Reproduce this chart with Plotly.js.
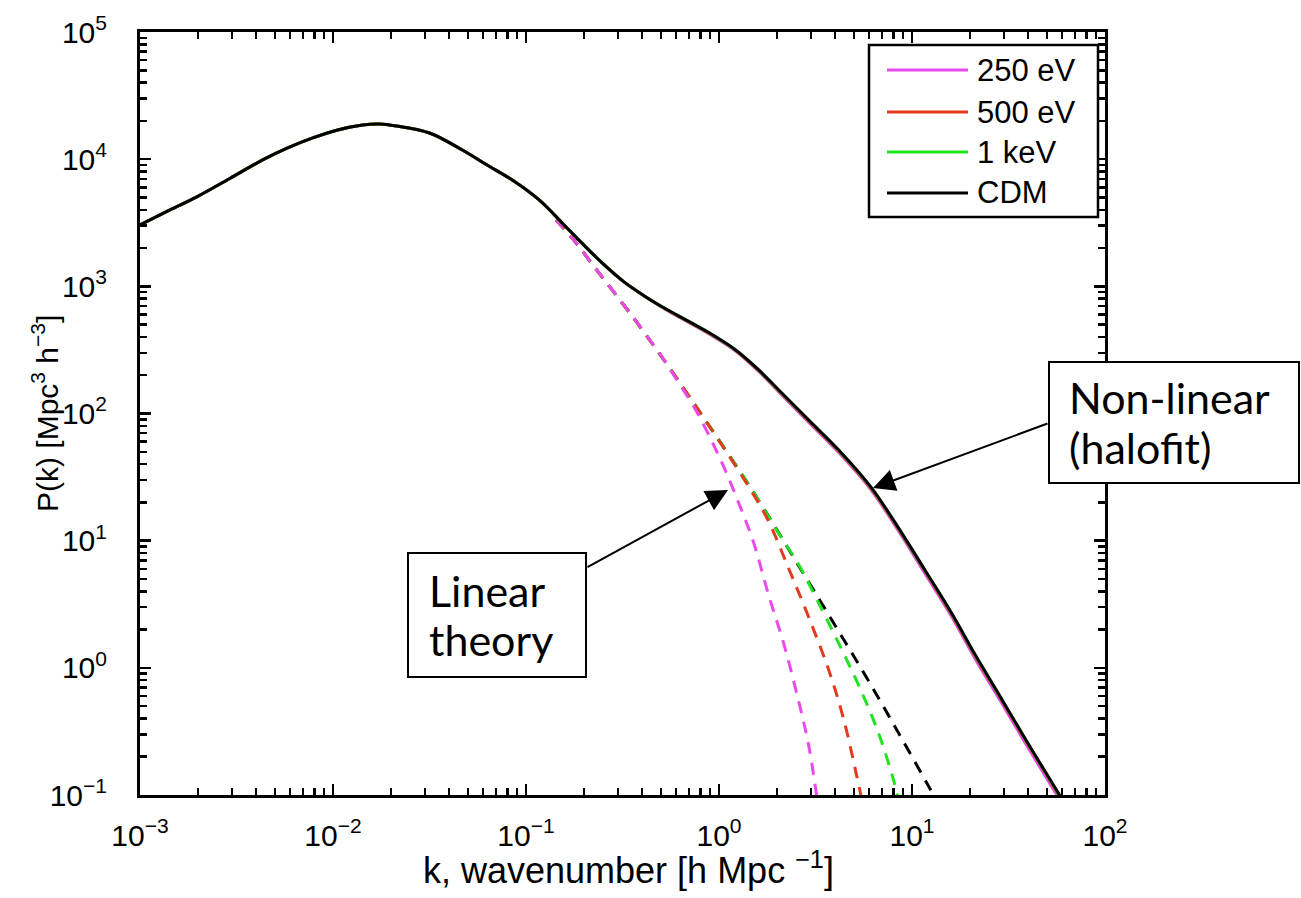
<!DOCTYPE html>
<html>
<head>
<meta charset="utf-8">
<script src="https://cdn.plot.ly/plotly-3.0.1.min.js"></script>
<style>
html,body{margin:0;padding:0;background:#fff;}
#chart{width:1301px;height:898px;}
</style>
</head>
<body>
<div id="chart"></div>
<script>
// ---- data ----
// non-linear (halofit), solid lines
const k_nl = [0.001, 0.00143, 0.00197, 0.00292, 0.00432, 0.00582, 0.00785, 0.01057, 0.01423, 0.0174, 0.0213, 0.0316, 0.0468, 0.0629, 0.0849, 0.117, 0.167, 0.248, 0.322, 0.418, 0.531, 0.673, 0.908, 1.22, 1.607, 2.04, 2.91, 4.16, 6.17, 8.51, 11.73, 16.0, 21.3, 28.7, 38.6, 57.2, 68.4];
const P_cdm_nl   = [3040, 3990, 5050, 7050, 9860, 12250, 14690, 16980, 18580, 18930, 18240, 16070, 11810, 8990, 6860, 4780, 2770, 1528, 1084, 826, 664, 545, 423, 316, 220, 153, 89.1, 51.8, 26.0, 12.6, 5.80, 2.71, 1.26, 0.591, 0.277, 0.104, 0.0662];
const P_1kev_nl  = [3040, 3990, 5050, 7050, 9860, 12250, 14690, 16980, 18580, 18930, 18240, 16070, 11810, 8990, 6860, 4780, 2770, 1528, 1084, 825, 663, 544, 422, 315, 219, 152, 88.6, 51.4, 25.8, 12.5, 5.75, 2.69, 1.25, 0.586, 0.275, 0.103, 0.0657];
const P_500ev_nl = [3040, 3990, 5050, 7050, 9860, 12250, 14690, 16980, 18580, 18930, 18240, 16070, 11810, 8990, 6860, 4780, 2770, 1527, 1083, 824, 661, 541, 419, 313, 217, 151, 87.6, 50.8, 25.5, 12.3, 5.68, 2.65, 1.23, 0.578, 0.271, 0.102, 0.0648];
const P_250ev_nl = [3040, 3990, 5050, 7050, 9860, 12250, 14690, 16980, 18580, 18930, 18240, 16070, 11810, 8990, 6860, 4780, 2768, 1524, 1079, 820, 656, 536, 414, 310, 214, 148, 85.5, 49.5, 24.8, 11.9, 5.45, 2.54, 1.17, 0.55, 0.257, 0.096, 0.061];

// linear theory, dashed lines
const k_lin_cdm   = [0.143, 0.1734, 0.2388, 0.342, 0.489, 0.698, 0.997, 1.426, 2.04, 2.91, 4.16, 5.95, 8.51, 12.16, 14.5];
const P_lin_cdm   = [3330, 2399, 1274, 629, 299, 137, 62.0, 27.5, 11.5, 4.74, 1.95, 0.790, 0.308, 0.118, 0.0724];
const k_lin_1kev  = [0.143, 0.1734, 0.2388, 0.342, 0.489, 0.698, 0.997, 1.426, 2.04, 2.59, 3.28, 4.16, 5.28, 6.70, 8.02, 8.51];
const P_lin_1kev  = [3330, 2399, 1274, 629, 299, 137, 62.0, 27.5, 11.4, 6.46, 3.24, 1.57, 0.734, 0.308, 0.1315, 0.0916];
const k_lin_500ev = [0.143, 0.1734, 0.2388, 0.342, 0.489, 0.698, 0.997, 1.426, 1.81, 2.30, 2.91, 3.70, 4.42, 5.17, 5.61];
const P_lin_500ev = [3330, 2399, 1274, 629, 299, 137, 61.5, 26.5, 14.1, 6.00, 2.52, 0.964, 0.397, 0.1415, 0.0793];
const k_lin_250ev = [0.143, 0.1734, 0.2388, 0.342, 0.506, 0.619, 0.741, 0.885, 1.059, 1.265, 1.513, 1.81, 2.16, 2.59, 2.91, 3.17, 3.28];
const P_lin_250ev = [3330, 2399, 1274, 629, 279, 174, 113, 67.9, 38.0, 19.8, 9.61, 3.70, 1.57, 0.541, 0.249, 0.111, 0.0743];

const seriesNames = ['250 eV', '500 eV', '1 keV', 'CDM'];
const seriesColors = ['#ea4aea', '#e53a1e', '#1fe41f', '#000000'];

const xTickVals = [0.001, 0.01, 0.1, 1, 10, 100];
const xTickText = ['10<sup>−3</sup>', '10<sup>−2</sup>', '10<sup>−1</sup>', '10<sup>0</sup>', '10<sup>1</sup>', '10<sup>2</sup>'];
const yTickVals = [0.1, 1, 10, 100, 1000, 10000, 100000];
const yTickText = ['10<sup>−1</sup>', '10<sup>0</sup>', '10<sup>1</sup>', '10<sup>2</sup>', '10<sup>3</sup>', '10<sup>4</sup>', '10<sup>5</sup>'];

const xTitle = 'k, wavenumber [h Mpc <sup>−1</sup>]';
const yTitle = 'P(k) [Mpc<sup>3</sup> h<sup>−3</sup>]';

// minor tick positions (2..9 within each decade)
function minorVals(lo, hi) {
  const out = [];
  for (let e = lo; e < hi; e++) for (let m = 2; m <= 9; m++) out.push(m * Math.pow(10, e));
  return out;
}

// ---- traces ----
const linK = [k_lin_250ev, k_lin_500ev, k_lin_1kev, k_lin_cdm];
const linP = [P_lin_250ev, P_lin_500ev, P_lin_1kev, P_lin_cdm];
const nlP = [P_250ev_nl, P_500ev_nl, P_1kev_nl, P_cdm_nl];

const traces = [];
[3, 2, 1, 0].forEach(i => {
  traces.push({
    x: linK[i], y: linP[i], type: 'scatter', mode: 'lines', name: seriesNames[i] + ' (linear)',
    line: {color: seriesColors[i], width: 3, dash: '12px,9px', shape: 'spline', smoothing: 1},
    showlegend: false, hoverinfo: 'skip'
  });
});
[0, 1, 2, 3].forEach(i => {
  const t = {
    x: k_nl, y: nlP[i], type: 'scatter', mode: 'lines', name: seriesNames[i],
    line: {color: seriesColors[i], width: 3, shape: 'spline', smoothing: 1},
    showlegend: false
  };
  // the CDM curve (drawn on top) lives on the overlay axes that carry the minor ticks
  if (i === 3) { t.xaxis = 'x2'; t.yaxis = 'y2'; }
  traces.push(t);
});

const L = 140, R = 1105, T = 32, B = 795;
const W = 1301, H = 898;
const px = v => (v - L) / (R - L);
const py = v => (B - v) / (B - T);

const baseFont = 'Liberation Sans, Arial, Helvetica, sans-serif';
const annFamily = 'Comic Sans MS, Lato, Noto Sans, sans-serif';

// ---- hand-drawn legend (matches the reference box) ----
const legendRows = [70, 112, 152, 193];
const shapes = [
  {type: 'rect', xref: 'paper', yref: 'paper', x0: px(869), x1: px(1098), y0: py(217), y1: py(45),
   line: {color: '#000', width: 2.5}, fillcolor: '#fff', layer: 'above'},
  {type: 'rect', xref: 'paper', yref: 'paper', x0: px(408), x1: px(586), y0: py(677), y1: py(553),
   line: {color: '#000', width: 2}, fillcolor: '#fff', layer: 'above'},
  {type: 'rect', xref: 'paper', yref: 'paper', x0: px(1049), x1: px(1299), y0: py(483), y1: py(362),
   line: {color: '#000', width: 2}, fillcolor: '#fff', layer: 'above'}
];
const annotations = [];
seriesNames.forEach((name, i) => {
  shapes.push({type: 'line', xref: 'paper', yref: 'paper', x0: px(887), x1: px(968),
    y0: py(legendRows[i]), y1: py(legendRows[i]), line: {color: seriesColors[i], width: 3}, layer: 'above'});
  annotations.push({xref: 'paper', yref: 'paper', x: px(975), y: py(legendRows[i]), xanchor: 'left', yanchor: 'middle',
    text: name, showarrow: false, font: {family: baseFont, size: 31, color: '#000'}});
});

// text boxes and arrows
annotations.push(
  {xref: 'paper', yref: 'paper', x: px(427), y: py(590), xanchor: 'left', yanchor: 'middle',
   text: 'Linear', showarrow: false, font: {family: annFamily, size: 43, color: '#000'}},
  {xref: 'paper', yref: 'paper', x: px(427), y: py(639), xanchor: 'left', yanchor: 'middle',
   text: 'theory', showarrow: false, font: {family: annFamily, size: 43, color: '#000'}},
  {xref: 'paper', yref: 'paper', x: px(1067), y: py(397), xanchor: 'left', yanchor: 'middle',
   text: 'Non-linear', showarrow: false, font: {family: annFamily, size: 43, color: '#000'}},
  {xref: 'paper', yref: 'paper', x: px(1067), y: py(447), xanchor: 'left', yanchor: 'middle',
   text: '(halofit)', showarrow: false, font: {family: annFamily, size: 43, color: '#000'}},
  {xref: 'paper', yref: 'paper', x: px(728), y: py(490), text: '',
   showarrow: true, arrowhead: 2, arrowsize: 2.2, arrowwidth: 2, arrowcolor: '#000',
   ax: 586 - 728, ay: 568 - 490},
  {xref: 'paper', yref: 'paper', x: px(873), y: py(488), text: '',
   showarrow: true, arrowhead: 2, arrowsize: 2.2, arrowwidth: 2, arrowcolor: '#000',
   ax: 1049 - 873, ay: 423 - 488},
  // axis titles
  {xref: 'paper', yref: 'paper', x: px(628), y: py(868), xanchor: 'center', yanchor: 'middle',
   text: xTitle, showarrow: false, font: {family: baseFont, size: 36, color: '#000'}},
  {xref: 'paper', yref: 'paper', x: px(45), y: py(414), xanchor: 'center', yanchor: 'middle', textangle: -90,
   text: yTitle, showarrow: false, font: {family: baseFont, size: 30, color: '#000'}}
);

const axisCommon = {
  type: 'log', autorange: false,
  showgrid: false, zeroline: false,
  showline: true, linecolor: '#000', linewidth: 3, mirror: 'ticks',
  ticks: 'inside', ticklen: 11, tickwidth: 2.5, tickcolor: '#000',
  tickmode: 'array',
  tickfont: {size: 30, family: baseFont, color: '#000'},
  automargin: false
};
const minorCommon = {
  type: 'log', autorange: false,
  showgrid: false, zeroline: false, showline: false, mirror: 'ticks',
  ticks: 'inside', ticklen: 7, tickwidth: 2.5, tickcolor: '#000',
  tickmode: 'array', showticklabels: false, automargin: false
};

const layout = {
  width: W, height: H,
  margin: {l: L, r: W - R, t: T, b: H - B, pad: 0},
  paper_bgcolor: '#fff', plot_bgcolor: '#fff',
  font: {family: baseFont, color: '#000'},
  showlegend: false,
  xaxis: Object.assign({}, axisCommon, {
    range: [-3, 2], tickvals: xTickVals, ticktext: xTickText, ticklabelstandoff: 12
  }),
  yaxis: Object.assign({}, axisCommon, {
    range: [-1, 5], tickvals: yTickVals, ticktext: yTickText, ticklabelstandoff: 24
  }),
  xaxis2: Object.assign({}, minorCommon, {
    range: [-3, 2], tickvals: minorVals(-3, 2), overlaying: 'x', anchor: 'y2', side: 'bottom'
  }),
  yaxis2: Object.assign({}, minorCommon, {
    range: [-1, 5], tickvals: minorVals(-1, 5), overlaying: 'y', anchor: 'x2', side: 'left'
  }),
  shapes: shapes,
  annotations: annotations
};

Plotly.newPlot('chart', traces, layout, {displayModeBar: false, staticPlot: true});
</script>
</body>
</html>
